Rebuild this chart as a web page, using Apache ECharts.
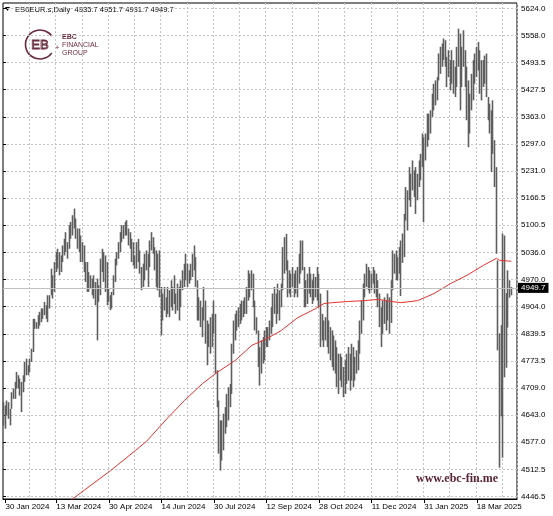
<!DOCTYPE html>
<html><head><meta charset="utf-8">
<script src="https://cdn.jsdelivr.net/npm/echarts@6/dist/echarts.min.js"></script>
<style>html,body{margin:0;padding:0;background:#fff}#c{width:553px;height:516px}</style>
</head><body><div id="c"></div>
<script>
// ---------- data ----------
const symbolName = 'ES0EUR.s,Daily';
const firstSession = '2024-01-29';
const lastSlot = '2025-04-21';           // chart leaves 3 empty future slots on the right
const holidays = ['2024-03-29','2024-04-01','2024-05-01','2024-12-24','2024-12-25','2024-12-26','2024-12-31','2025-01-01'];
const xLabelDates = ['2024-01-30','2024-03-13','2024-04-30','2024-06-14','2024-07-30','2024-09-12','2024-10-28','2024-12-11','2025-01-31','2025-03-18'];
const yTickLabels = ['4446.5','4512.5','4577.0','4643.0','4709.0','4773.5','4839.5','4904.0','4970.0','5036.0','5100.5','5166.5','5231.0','5297.0','5363.0','5427.5','5493.5','5558.0','5624.0'];
const yTickMin = 4446.5, yTickMax = 5624.0;
// daily bars: [open, high, low, close]
const ohlc = [
[4640,4674,4618,4655],[4655,4666,4610,4630],[4645,4678,4642,4670],[4668,4674,4634,4645],[4648,4658,4618,4652],
[4660,4698,4658,4690],[4690,4707,4682,4700],[4698,4723,4682,4715],[4715,4747,4707,4740],[4735,4739,4707,4712],
[4715,4731,4690,4725],[4720,4723,4650,4700],[4702,4739,4698,4730],[4730,4771,4723,4762],[4762,4779,4739,4750],
[4750,4763,4739,4758],[4757,4779,4747,4770],[4775,4803,4771,4798],[4800,4875,4795,4866],[4866,4875,4851,4860],
[4860,4867,4851,4858],[4858,4884,4851,4878],[4876,4892,4859,4872],[4874,4900,4867,4893],[4892,4900,4875,4886],
[4888,4916,4884,4910],[4905,4908,4875,4885],[4885,4932,4867,4925],[4922,4932,4900,4918],[4935,4996,4932,4985],
[4978,4980,4924,4940],[4945,5012,4940,5005],[5000,5036,4988,5018],[5018,5044,4996,5030],[5028,5036,4980,4995],
[4995,5028,4988,5020],[5020,5052,5012,5045],[5042,5068,5028,5060],[5060,5084,5036,5050],[5050,5060,5020,5040],
[5045,5101,5044,5090],[5088,5109,5068,5080],[5082,5125,5076,5115],[5112,5141,5093,5120],[5110,5117,5068,5078],
[5078,5093,5044,5060],[5060,5093,5036,5072],[5070,5076,5012,5030],[5030,5060,5012,5040],[5040,5052,4988,5000],
[5002,5012,4964,4975],[4978,5012,4940,4995],[4985,4988,4940,4955],[4955,4980,4948,4965],[4962,4972,4932,4945],
[4945,4980,4924,4960],[4955,4964,4908,4920],[4920,4972,4823,4930],[4930,4956,4916,4945],[4945,5020,4932,5012],
[5010,5044,4988,5030],[5030,5036,4964,4990],[4990,5028,4940,5015],[5010,5012,4908,4925],[4925,4948,4916,4930],
[4928,4932,4896,4915],[4915,4940,4900,4935],[4935,4980,4932,4972],[4972,5020,4964,5010],[5010,5036,5004,5025],
[5025,5060,5020,5052],[5050,5084,5036,5075],[5075,5101,5060,5090],[5090,5101,5068,5080],[5080,5109,5076,5100],
[5100,5113,5076,5085],[5085,5093,5052,5062],[5062,5084,5044,5070],[5068,5068,5012,5025],[5025,5060,5004,5048],
[5025,5028,4996,5010],[5010,5060,4996,5050],[5050,5068,5012,5030],[5030,5040,4984,4995],[4995,5000,4944,4960],
[4960,5008,4952,5000],[5000,5032,4968,5020],[5020,5040,4992,5005],[5005,5032,4952,4965],[5005,5064,5000,5055],
[5055,5084,5040,5070],[5068,5072,5032,5045],[5045,5048,4992,5000],[5000,5040,4952,5030],[5030,5032,4944,4955],
[4960,5040,4927,4935],[4935,4952,4835,4845],[4875,4936,4871,4920],[4920,4952,4895,4940],[4925,4927,4879,4900],
[4900,4952,4887,4945],[4940,4944,4879,4890],[4905,4968,4903,4960],[4950,4952,4895,4910],[4915,4980,4911,4970],
[4930,4936,4887,4900],[4900,4960,4895,4950],[4945,4952,4871,4880],[4905,4968,4903,4960],[4960,4992,4944,4985],
[4985,5008,4952,4965],[4970,5032,4968,5025],[5005,5008,4952,4970],[4970,4992,4960,4985],[4985,5008,4968,5000],
[5000,5032,4976,5025],[5025,5052,4992,5010],[5010,5024,4952,4960],[4960,4968,4871,4885],[4885,4927,4871,4910],
[4905,4919,4855,4865],[4865,4903,4831,4845],[4880,4952,4871,4940],[4915,4919,4815,4830],[4830,4871,4763,4790],
[4810,4863,4807,4850],[4850,4879,4791,4805],[4810,4887,4807,4870],[4870,4919,4839,4880],[4880,4887,4743,4760],
[4750,4751,4662,4670],[4670,4678,4550,4580],[4580,4630,4509,4560],[4560,4630,4533,4610],[4600,4646,4558,4590],
[4600,4662,4598,4650],[4640,4694,4614,4680],[4680,4710,4630,4650],[4665,4718,4662,4710],[4700,4815,4694,4805],
[4805,4871,4791,4860],[4858,4887,4823,4835],[4850,4895,4847,4885],[4880,4903,4855,4870],[4870,4911,4863,4900],
[4900,4919,4871,4885],[4885,4919,4879,4910],[4910,4927,4887,4900],[4900,4952,4887,4945],[4945,4992,4919,4980],
[4978,4984,4927,4940],[4945,4992,4944,4985],[4980,4984,4903,4915],[4915,4919,4847,4855],[4855,4879,4839,4850],
[4845,4847,4759,4770],[4770,4807,4714,4730],[4745,4823,4743,4800],[4800,4831,4767,4780],[4780,4847,4775,4830],
[4830,4855,4807,4840],[4840,4855,4807,4820],[4825,4871,4823,4860],[4855,4903,4839,4895],[4890,4936,4855,4870],
[4890,4952,4887,4940],[4935,4936,4863,4880],[4890,4960,4887,4950],[4940,4944,4871,4890],[4905,4960,4903,4945],
[4950,5048,4944,5040],[5035,5072,4984,5060],[5060,5080,4992,5005],[5005,5016,4927,4940],[4945,4992,4936,4980],
[4975,4984,4927,4940],[4955,5000,4952,4990],[4980,4984,4927,4945],[4945,4992,4936,4975],[4975,5000,4927,4960],
[4965,5032,4960,5025],[5020,5064,4984,5050],[5050,5064,4992,5000],[4995,5000,4903,4915],[4915,4968,4903,4960],
[4955,4984,4911,4925],[4940,5000,4936,4990],[4980,4984,4927,4940],[4940,4968,4911,4925],[4925,4984,4919,4970],
[4965,4976,4927,4945],[4945,5000,4919,4985],[4980,4984,4903,4925],[4925,4936,4807,4820],[4830,4887,4823,4870],
[4865,4871,4807,4815],[4825,4879,4823,4860],[4860,4944,4807,4830],[4830,4871,4791,4850],[4845,4855,4775,4790],
[4790,4847,4759,4830],[4825,4835,4750,4765],[4770,4823,4743,4810],[4805,4807,4710,4725],[4725,4791,4694,4760],
[4760,4791,4726,4735],[4735,4783,4710,4770],[4750,4759,4686,4700],[4700,4775,4694,4760],[4760,4791,4718,4730],
[4735,4807,4726,4795],[4790,4791,4702,4715],[4730,4815,4726,4800],[4795,4807,4710,4725],[4730,4783,4726,4770],
[4765,4799,4743,4750],[4755,4823,4751,4810],[4805,4871,4791,4860],[4860,4919,4839,4905],[4905,4960,4871,4950],
[4945,4984,4927,4975],[4975,5008,4952,4995],[4995,5000,4944,4960],[4960,4992,4936,4985],[4980,4984,4944,4960],
[4962,5000,4960,4990],[4988,4992,4936,4950],[4950,4984,4927,4975],[4965,4968,4903,4915],[4915,4936,4855,4870],
[4870,4903,4807,4825],[4840,4919,4839,4900],[4895,4927,4863,4880],[4880,4919,4847,4905],[4905,4936,4871,4890],
[4885,4927,4839,4860],[4870,4968,4865,4955],[4955,5040,4944,5030],[5025,5032,4984,5000],[5000,5040,4968,5030],
[5020,5024,4968,4985],[4990,5048,4984,5040],[5035,5064,4930,5055],[5050,5081,5010,5070],[5060,5128,5024,5120],
[5120,5193,5112,5180],[5175,5185,5088,5150],[5165,5241,5161,5225],[5220,5225,5145,5170],[5190,5257,5185,5240],
[5230,5233,5169,5200],[5205,5241,5128,5150],[5165,5225,5161,5210],[5210,5257,5193,5245],[5240,5273,5209,5255],
[5255,5322,5241,5310],[5240,5313,5108,5290],[5285,5322,5257,5315],[5310,5370,5290,5360],[5355,5370,5306,5330],
[5330,5378,5322,5365],[5365,5418,5362,5410],[5405,5442,5378,5395],[5395,5450,5390,5440],[5440,5458,5402,5450],
[5455,5515,5450,5505],[5500,5531,5466,5480],[5485,5539,5483,5530],[5530,5551,5499,5510],[5510,5547,5483,5495],
[5495,5507,5434,5445],[5460,5523,5458,5510],[5495,5499,5426,5440],[5445,5523,5442,5510],[5495,5499,5418,5430],
[5435,5483,5410,5470],[5460,5531,5434,5520],[5520,5575,5483,5560],[5555,5563,5378,5400],[5440,5531,5434,5510],
[5505,5571,5483,5545],[5520,5523,5434,5450],[5450,5483,5354,5370],[5375,5450,5289,5420],[5410,5418,5322,5350],
[5380,5466,5378,5450],[5440,5499,5402,5480],[5475,5515,5442,5500],[5495,5531,5458,5520],[5515,5543,5474,5490],
[5490,5523,5418,5440],[5440,5499,5402,5470],[5465,5499,5434,5450],[5455,5510,5442,5495],[5490,5515,5410,5420],
[5405,5410,5354,5365],[5365,5394,5322,5340],[5340,5378,5229,5250],[5280,5402,5273,5370],[5300,5306,5193,5230],
[5230,5241,5032,5050],[5010,5016,4799,4830],[4780,4840,4516,4650],[4660,4860,4640,4760],[4700,5081,4540,5030],
[5000,5076,4734,4790],[4800,4937,4757,4900],[4910,4992,4854,4960],[4950,4968,4926,4940],[4935.7,4951.7,4931.7,4949.7]
];
// moving average (red line), read at bar positions
const maBarIndex = [40,44,65,80,87,100,110,121,130,141,151,159,169,179,190,195,200,210,220,228,236,242,252,262,272,282,292,300,302,309];
const maValues   = [4435,4447,4509,4557,4580,4637,4678,4719,4746,4775,4811,4825,4847,4878,4900,4912,4914,4917,4919,4922,4917,4914,4919,4936,4960,4980,5004,5021,5016,5014];

// ---------- build ----------
const dates = [];
for (let t = Date.parse(firstSession + 'T00:00:00Z'); t <= Date.parse(lastSlot + 'T00:00:00Z'); t += 86400000) {
  const d = new Date(t), wd = d.getUTCDay(), s = d.toISOString().slice(0, 10);
  if (wd !== 0 && wd !== 6 && holidays.indexOf(s) < 0) dates.push(s);
}
const months = ['Jan','Feb','Mar','Apr','May','Jun','Jul','Aug','Sep','Oct','Nov','Dec'];
const fmtDate = v => (+v.slice(8, 10)) + ' ' + months[+v.slice(5, 7) - 1] + ' ' + v.slice(0, 4);
const labelSet = new Set(xLabelDates);
const last = ohlc[ohlc.length - 1];
const lastPrice = last[3];
const tickStep = (yTickMax - yTickMin) / (yTickLabels.length - 1);
const F = 'Liberation Sans, Arial, sans-serif';
const barCol = '#5e5e5e';
const maroon = '#6b2b3e';
const gridDash = { color: '#c4c4c4', width: 1, type: [2, 2] };

const chart = echarts.init(document.getElementById('c'));
chart.setOption({
  animation: false,
  backgroundColor: '#ffffff',
  grid: [
    { left: 3, right: 36, top: 3, bottom: 17, show: true, borderColor: '#000', borderWidth: 1, backgroundColor: 'transparent', outerBoundsMode: 'none', containLabel: false },
    { left: 3, right: 36, top: 8.3, bottom: 19.5, outerBoundsMode: 'none', containLabel: false }
  ],
  xAxis: [
    {
      type: 'category', gridIndex: 0, data: dates, boundaryGap: true,
      axisLine: { show: true, lineStyle: { color: '#000', width: 1 } },
      axisTick: { show: true, alignWithLabel: true, length: 4, interval: (i, v) => labelSet.has(v), lineStyle: { color: '#000' } },
      axisLabel: { show: true, interval: (i, v) => labelSet.has(v), formatter: fmtDate, align: 'left', margin: 4, fontSize: 8, color: '#000', fontFamily: F, hideOverlap: false },
      splitLine: { show: true, interval: (i) => i > 0 && i % 16 === 0, lineStyle: gridDash }
    },
    { type: 'value', gridIndex: 1, show: false, min: 0, max: 1 }
  ],
  yAxis: [
    { type: 'value', gridIndex: 0, position: 'right', min: 4440.5, max: 5636.8, show: false, splitLine: { show: false } },
    {
      type: 'value', gridIndex: 1, position: 'right', min: yTickMin, max: yTickMax, interval: tickStep,
      axisLine: { show: false },
      axisTick: { show: true, length: 3, lineStyle: { color: '#000' } },
      axisLabel: { show: true, margin: 4, fontSize: 8, color: '#000', fontFamily: F, showMinLabel: true, showMaxLabel: true,
        formatter: v => yTickLabels[Math.round((v - yTickMin) / tickStep)] },
      splitLine: { show: true, lineStyle: gridDash }
    }
  ],
  series: [
    {
      type: 'candlestick', xAxisIndex: 0, yAxisIndex: 0, z: 2,
      data: ohlc.map(r => [r[0], r[3], r[2], r[1]]),
      barWidth: 1,
      itemStyle: { color: barCol, color0: barCol, borderColor: barCol, borderColor0: barCol, borderWidth: 1.6 },
      markLine: {
        silent: true, symbol: ['none', 'none'], animation: false,
        data: [{ yAxis: lastPrice }],
        lineStyle: { color: '#c0c0c0', type: 'solid', width: 1 },
        label: { show: true, position: 'end', distance: 1, formatter: lastPrice.toFixed(1), backgroundColor: '#000', color: '#fff', fontSize: 8, fontFamily: F, padding: [1, 3, 1, 3] }
      }
    },
    {
      type: 'line', xAxisIndex: 0, yAxisIndex: 0, z: 3,
      data: maBarIndex.map((i, k) => [i, maValues[k]]),
      showSymbol: false, symbol: 'none', clip: true,
      lineStyle: { color: '#e3322e', width: 1 }
    }
  ],
  graphic: [
    { type: 'polygon', shape: { points: [[5, 7], [10, 7], [7.5, 11]] }, style: { fill: '#000' } },
    { type: 'text', x: 15, y: 9.5, style: { text: symbolName + '  ' + last.map(v => v.toFixed(1)).join(' '), font: '7.6px ' + F, fill: '#000', verticalAlign: 'middle' } },
    { type: 'arc', shape: { cx: 40, cy: 44.5, r: 14.5, startAngle: Math.PI * 0.2, endAngle: Math.PI * 1.8, clockwise: true }, style: { stroke: maroon, lineWidth: 1.6, fill: null } },
    { type: 'text', x: 40, y: 45, style: { text: 'EB', font: '13px ' + F, fill: 'none', stroke: maroon, lineWidth: 0.9, align: 'center', verticalAlign: 'middle' } },
    { type: 'text', x: 57, y: 48, style: { text: '+', font: '8px ' + F, fill: maroon, align: 'center', verticalAlign: 'middle' } },
    { type: 'text', x: 62, y: 36.7, style: { text: 'EBC', font: 'bold 7px ' + F, fill: maroon, verticalAlign: 'middle' } },
    { type: 'text', x: 62, y: 45, style: { text: 'FINANCIAL', font: '7px ' + F, fill: maroon, verticalAlign: 'middle' } },
    { type: 'text', x: 62, y: 52.7, style: { text: 'GROUP', font: '7px ' + F, fill: maroon, verticalAlign: 'middle' } },
    { type: 'text', x: 416, y: 478.5, style: { text: 'www.ebc-fin.me', font: 'bold 12px "Liberation Serif", serif', fill: '#5b2236', verticalAlign: 'middle' } }
  ]
});
</script>
</body></html>
